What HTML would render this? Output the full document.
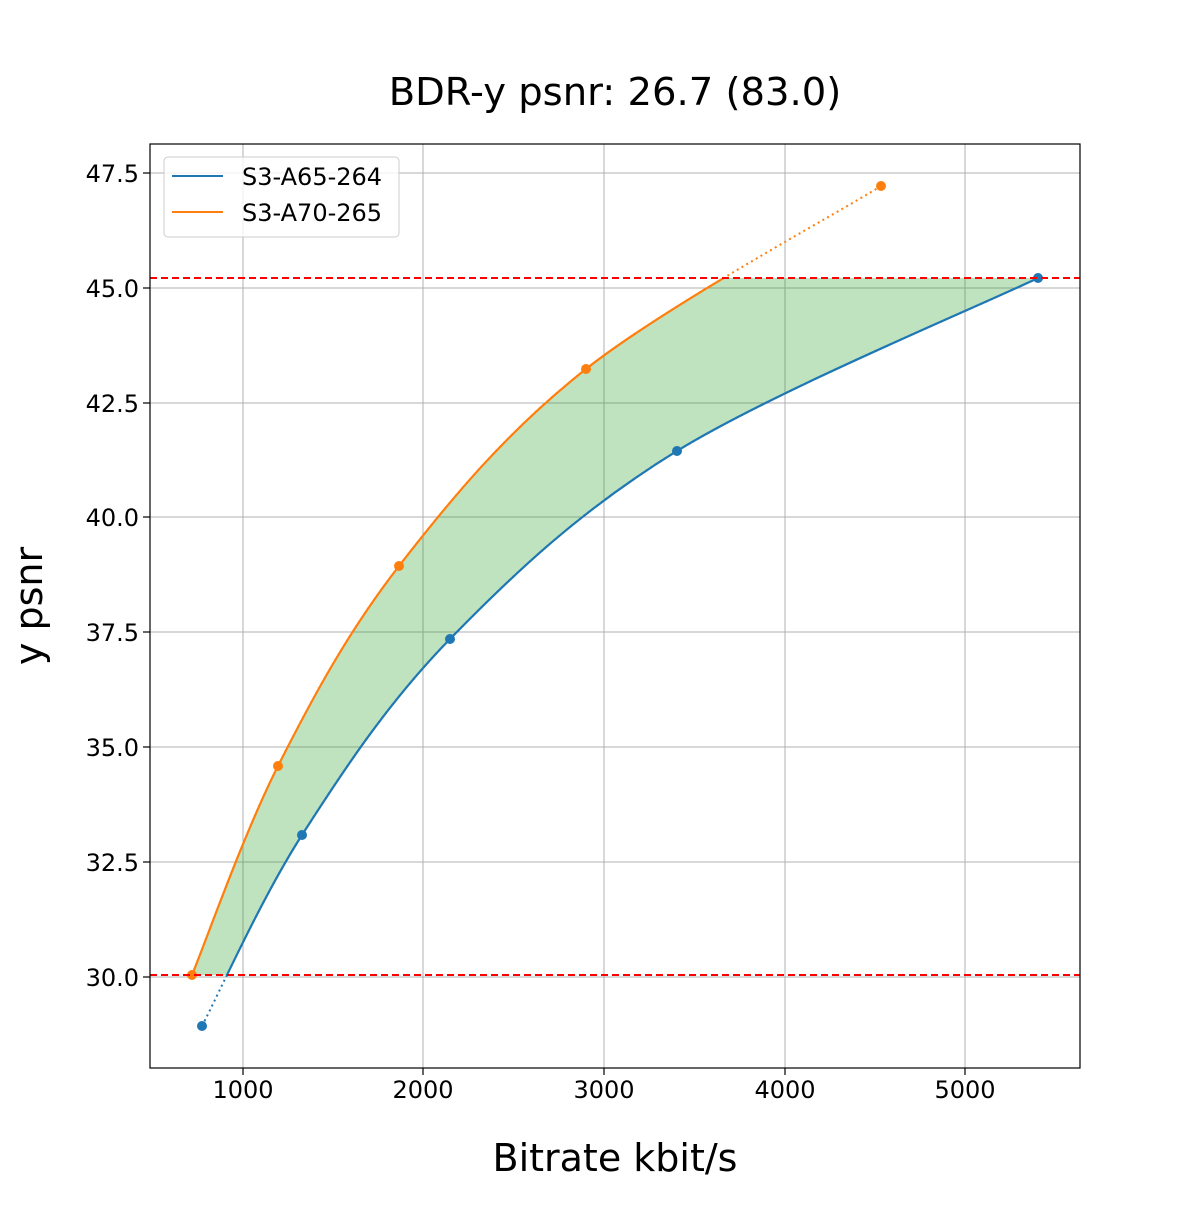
<!DOCTYPE html>
<html><head><meta charset="utf-8"><style>
html,body{margin:0;padding:0;background:#fff}
text{font-family:"DejaVu Sans","Liberation Sans",sans-serif;fill:#000}
</style></head><body>
<svg id="s" width="1200" height="1200" viewBox="0 0 1200 1200" xmlns="http://www.w3.org/2000/svg">
<defs>
<clipPath id="band"><rect x="150" y="278" width="930" height="697"/></clipPath>
<clipPath id="ax"><rect x="150" y="144" width="930" height="924"/></clipPath>
</defs>
<g stroke="#b0b0b0" stroke-width="1">
<line x1="243" y1="144" x2="243" y2="1068"/><line x1="423" y1="144" x2="423" y2="1068"/>
<line x1="604" y1="144" x2="604" y2="1068"/><line x1="785" y1="144" x2="785" y2="1068"/>
<line x1="965" y1="144" x2="965" y2="1068"/>
<line x1="150" y1="173" x2="1080" y2="173"/><line x1="150" y1="288" x2="1080" y2="288"/>
<line x1="150" y1="403" x2="1080" y2="403"/><line x1="150" y1="517" x2="1080" y2="517"/>
<line x1="150" y1="632" x2="1080" y2="632"/><line x1="150" y1="747" x2="1080" y2="747"/>
<line x1="150" y1="862" x2="1080" y2="862"/><line x1="150" y1="977" x2="1080" y2="977"/>
</g>
<g id="plot"></g>
<line x1="150" y1="278" x2="1080" y2="278" stroke="#ff0000" stroke-width="2" stroke-dasharray="7,4"/>
<line x1="150" y1="975" x2="1080" y2="975" stroke="#ff0000" stroke-width="2" stroke-dasharray="7,4"/>
<rect x="150" y="144" width="930" height="924" fill="none" stroke="#000" stroke-width="1.2"/>
<g stroke="#000" stroke-width="1.2">
<line x1="243" y1="1068" x2="243" y2="1075"/><line x1="423" y1="1068" x2="423" y2="1075"/>
<line x1="604" y1="1068" x2="604" y2="1075"/><line x1="785" y1="1068" x2="785" y2="1075"/>
<line x1="965" y1="1068" x2="965" y2="1075"/>
<line x1="143" y1="173" x2="150" y2="173"/><line x1="143" y1="288" x2="150" y2="288"/>
<line x1="143" y1="403" x2="150" y2="403"/><line x1="143" y1="517" x2="150" y2="517"/>
<line x1="143" y1="632" x2="150" y2="632"/><line x1="143" y1="747" x2="150" y2="747"/>
<line x1="143" y1="862" x2="150" y2="862"/><line x1="143" y1="977" x2="150" y2="977"/>
</g>
<g font-size="24" text-anchor="middle">
<text x="243" y="1098">1000</text><text x="423" y="1098">2000</text><text x="604" y="1098">3000</text>
<text x="785" y="1098">4000</text><text x="965" y="1098">5000</text>
</g>
<g font-size="24" text-anchor="end">
<text x="139" y="182">47.5</text><text x="139" y="297">45.0</text><text x="139" y="412">42.5</text>
<text x="139" y="526">40.0</text><text x="139" y="641">37.5</text><text x="139" y="756">35.0</text>
<text x="139" y="871">32.5</text><text x="139" y="986">30.0</text>
</g>
<text x="615" y="105" font-size="38.5" text-anchor="middle">BDR-y psnr: 26.7 (83.0)</text>
<text x="615" y="1171" font-size="38" text-anchor="middle">Bitrate kbit/s</text>
<text transform="translate(42,606) rotate(-90)" font-size="38" text-anchor="middle">y psnr</text>
<rect x="164" y="157" width="235" height="80" rx="4" fill="#fff" fill-opacity="0.8" stroke="#ccc"/>
<line x1="172" y1="176" x2="223" y2="176" stroke="#1f77b4" stroke-width="2"/>
<line x1="172" y1="212" x2="223" y2="212" stroke="#ff7f0e" stroke-width="2"/>
<text x="242" y="185" font-size="24">S3-A65-264</text>
<text x="242" y="221" font-size="24">S3-A70-265</text>
</svg>
<script>
var O=[[192,975],[278,766],[399,566],[586,369],[881,186]];
var B=[[202,1026],[302,835],[450,639],[677,451],[1038,278]];
function cr(p,start){var d=start?"M"+p[0][0]+","+p[0][1]:"";
for(var i=0;i<p.length-1;i++){var p0=p[Math.max(i-1,0)],p1=p[i],p2=p[i+1],p3=p[Math.min(i+2,p.length-1)];
var c1=[p1[0]+(p2[0]-p0[0])/6,p1[1]+(p2[1]-p0[1])/6],c2=[p2[0]-(p3[0]-p1[0])/6,p2[1]-(p3[1]-p1[1])/6];
d+=" C"+c1+" "+c2+" "+p2;}return d;}
var Br=B.slice().reverse();
var fill=cr(O,true)+" L1038,278"+cr(Br,false)+" Z";
var g=document.getElementById("plot"),ns="http://www.w3.org/2000/svg";
function el(t,a){var e=document.createElementNS(ns,t);for(var k in a)e.setAttribute(k,a[k]);g.appendChild(e);return e;}
el("path",{d:fill,fill:"#2ca02c","fill-opacity":"0.3","clip-path":"url(#band)"});
[[O,"#ff7f0e"],[B,"#1f77b4"]].forEach(function(s){var d=cr(s[0],true);
el("path",{d:d,fill:"none",stroke:s[1],"stroke-width":2,"stroke-dasharray":"2,3.5","clip-path":"url(#ax)"});
el("path",{d:d,fill:"none",stroke:s[1],"stroke-width":2.2,"clip-path":"url(#band)"});
s[0].forEach(function(p){el("circle",{cx:p[0],cy:p[1],r:5,fill:s[1]});});});
</script>
</body></html>
